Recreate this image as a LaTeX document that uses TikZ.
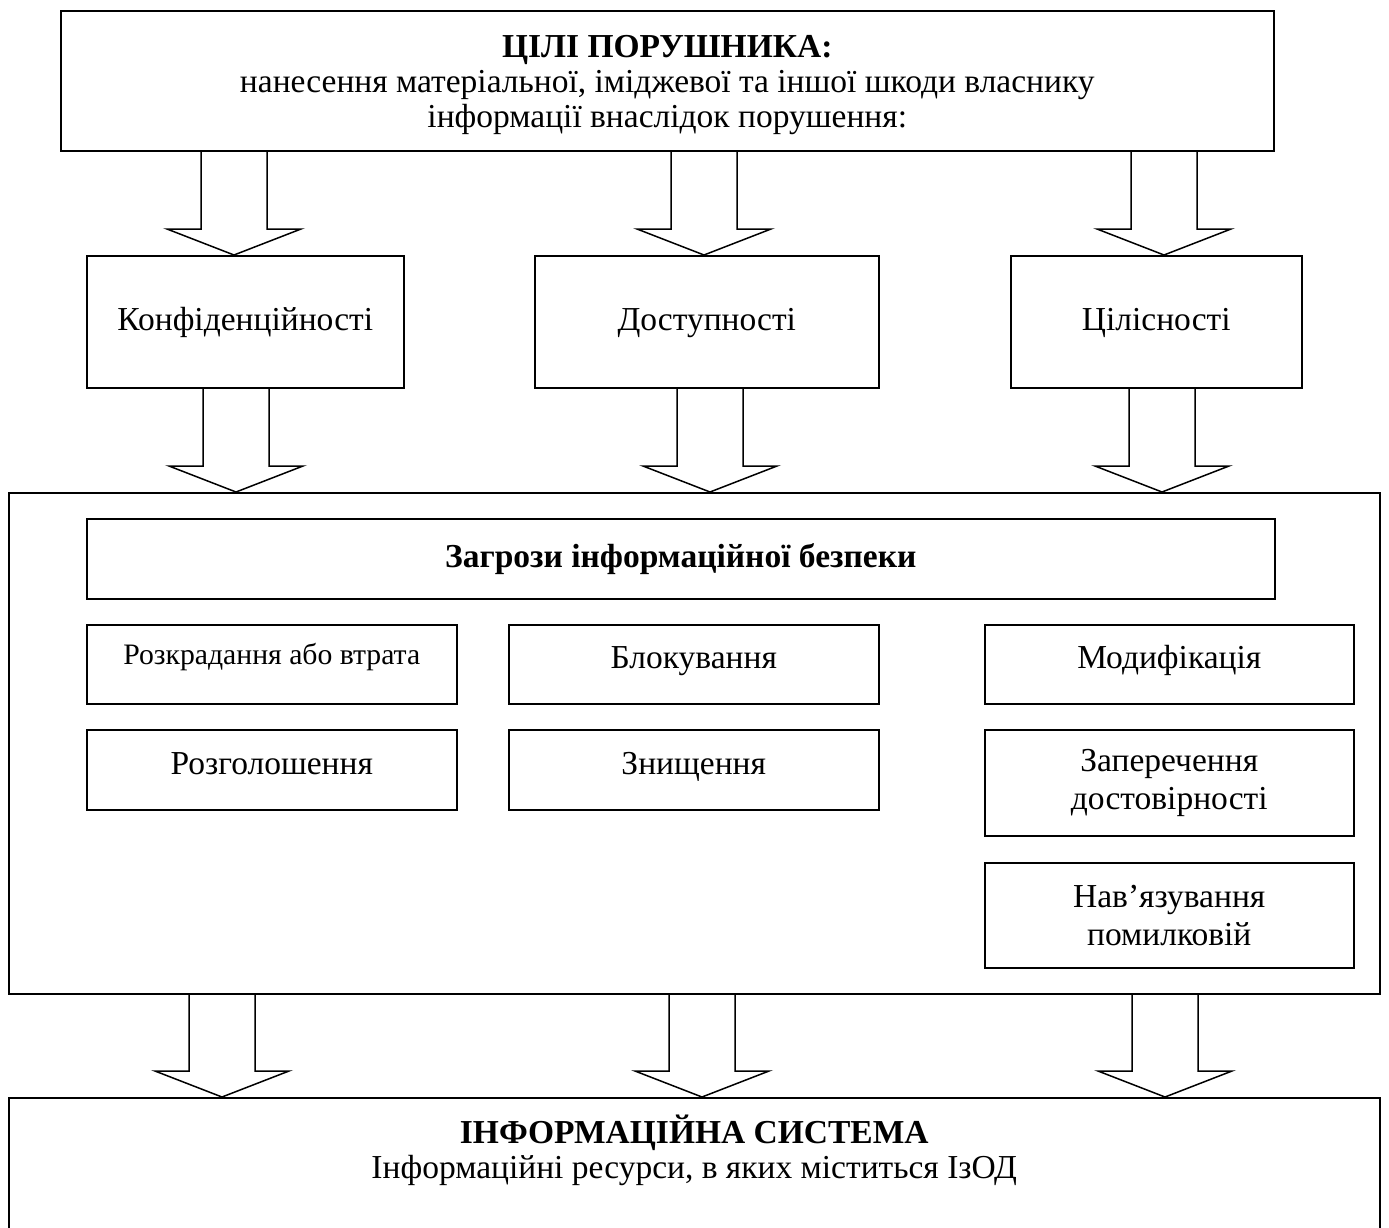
\documentclass[tikz,border=0pt]{standalone}
\usepackage{fontspec}
\setmainfont{Liberation Serif}
\usetikzlibrary{calc}
\tikzset{
  box/.style={draw, line width=1.5pt, inner sep=0pt, anchor=north west, align=center,
    font=\fontsize{33.5}{35}\selectfont},
  onerow/.style={text height=22pt, text depth=13pt},
  txt/.style={inner sep=0pt, align=center, font=\fontsize{33.5}{35}\selectfont},
  barr/.style={draw, line width=1.5pt, line join=miter},
}
\newcommand\blockarrow[3]{%
  \path (#1,0) coordinate (ax);
  \coordinate (abase) at (ax |- #2.south);
  \coordinate (atip) at (ax |- #3.north);
  \draw[barr] ($(abase)+(-33,0)$) -- ($(atip)+(-33,-26)$) -- ($(atip)+(-67,-26)$) -- (atip)
    -- ($(atip)+(67,-26)$) -- ($(atip)+(33,-26)$) -- ($(abase)+(33,0)$);
}
\begin{document}
\begin{tikzpicture}[x=1pt,y=-1pt]
\useasboundingbox (0,0) rectangle (1389,1227);
\clip (0,0) rectangle (1389,1227);
% top goal box
\node[box, minimum width=1213, minimum height=140] (goal) at (60,10)
  {\rule{0pt}{30pt}\textbf{ЦІЛІ ПОРУШНИКА:}\\нанесення матеріальної, іміджевої та іншої шкоди власнику\\інформації внаслідок порушення:};
% second row
\node[box, text height=24pt, text depth=6pt, minimum width=317, minimum height=132] (conf) at (86,255) {Конфіденційності};
\node[box, text height=24pt, text depth=6pt, minimum width=344, minimum height=132] (avail) at (534,255) {Доступності};
\node[box, text height=24pt, text depth=6pt, minimum width=291, minimum height=132] (integ) at (1010,255) {Цілісності};
% big threats box
\node[box, minimum width=1371, minimum height=501] (threats) at (8,492) {};
\node[box, text height=24pt, text depth=6pt, minimum width=1188, minimum height=80] (thhead) at (86,518) {\textbf{Загрози інформаційної безпеки}};
\node[box, text height=18pt, text depth=17pt, minimum width=370, minimum height=79, font=\fontsize{29.7}{32}\selectfont] (r1c1) at (86,624) {Розкрадання або втрата};
\node[box, onerow, minimum width=370, minimum height=80] (r2c1) at (86,729) {Розголошення};
\node[box, onerow, minimum width=370, minimum height=79] (r1c2) at (508,624) {Блокування};
\node[box, onerow, minimum width=370, minimum height=80] (r2c2) at (508,729) {Знищення};
\node[box, onerow, minimum width=369, minimum height=79] (r1c3) at (984,624) {Модифікація};
\node[box, minimum width=369, minimum height=106, font=\fontsize{33.5}{38}\selectfont] (r2c3) at (984,729) {Заперечення\\достовірності};
\node[box, minimum width=369, minimum height=105, font=\fontsize{33.5}{38}\selectfont] (r3c3) at (984,862) {Нав’язування\\помилковій};
% bottom system box
\node[box, minimum width=1371, minimum height=220] (sys) at (8,1097) {};
\node[txt] (systxt) at ($(sys.north)+(0,53)$) {\textbf{ІНФОРМАЦІЙНА СИСТЕМА}\\Інформаційні ресурси, в яких міститься ІзОД};
% block arrows
\blockarrow{234}{goal}{conf}
\blockarrow{704}{goal}{avail}
\blockarrow{1164}{goal}{integ}
\blockarrow{236}{conf}{threats}
\blockarrow{710}{avail}{threats}
\blockarrow{1162}{integ}{threats}
\blockarrow{222}{threats}{sys}
\blockarrow{702}{threats}{sys}
\blockarrow{1165}{threats}{sys}
\end{tikzpicture}
\end{document}
